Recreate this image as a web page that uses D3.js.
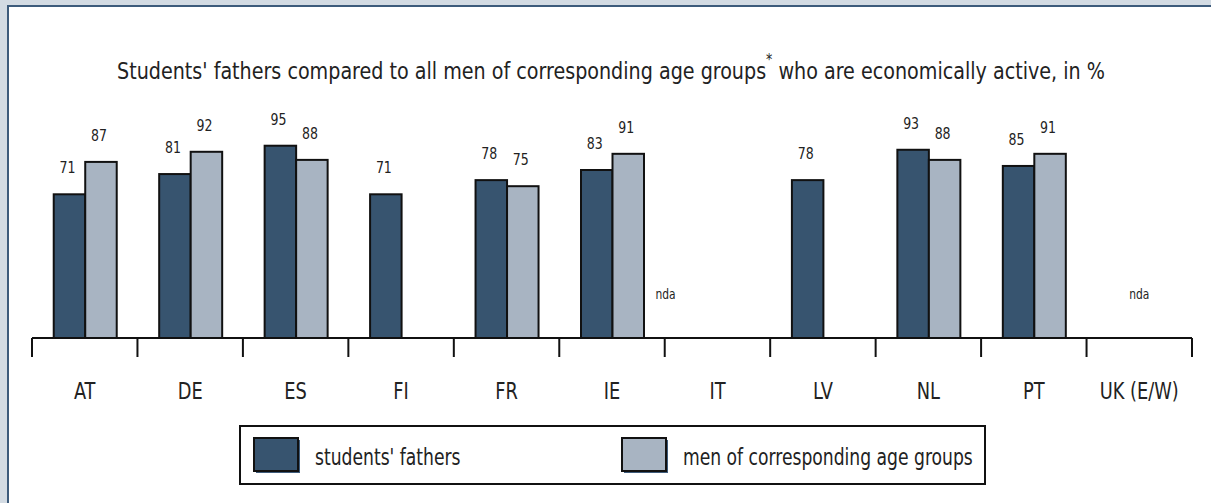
<!DOCTYPE html>
<html>
<head>
<meta charset="utf-8">
<script src="https://cdn.jsdelivr.net/npm/d3@7"></script>
<style>
  body { margin: 0; background: #d3dbe3; }
  svg text { font-family: "Liberation Sans Narrow", "DejaVu Sans Condensed", sans-serif; fill: #222; }
</style>
</head>
<body>
<div id="chart"></div>
<script>
// data
const countries = ['AT', 'DE', 'ES', 'FI', 'FR', 'IE', 'IT', 'LV', 'NL', 'PT', 'UK (E/W)'];
const fathers = [71, 81, 95, 71, 78, 83, null, 78, 93, 85, null];
const men = [87, 92, 88, null, 75, 91, null, null, 88, 91, null];
const noData = ['IT', 'UK (E/W)'];
const seriesNames = ["students' fathers", "men of corresponding age groups"];
const colors = ['#37546f', '#a8b4c2'];

const W = 1211, H = 503;
const svg = d3.select('#chart').append('svg')
    .attr('width', W)
    .attr('height', H);

// squeeze text horizontally to get the condensed look
const place = (x, y, sx) => `translate(${x},${y}) scale(${sx},1)`;

// frame
svg.append('rect')
    .attr('x', 8).attr('y', 6)
    .attr('width', W).attr('height', H)
    .attr('fill', '#fff')
    .attr('stroke', '#3d5b7b')
    .attr('stroke-width', 2);

// title
const title = svg.append('text')
    .attr('transform', place(611, 79, 0.925))
    .attr('text-anchor', 'middle')
    .style('font-size', '23px');
title.append('tspan').text("Students' fathers compared to all men of corresponding age groups");
title.append('tspan').attr('dy', -14).style('font-size', '15px').text('*');
title.append('tspan').attr('dy', 14).text(' who are economically active, in %');

// scales
const x = d3.scaleBand()
    .domain(countries)
    .range([32, 1192]);

const xs = d3.scaleBand()
    .domain([0, 1])
    .range([-31, 32]);

const y = d3.scaleLinear()
    .domain([0, 100])
    .range([338, 135.6]);

// axis
svg.append('line')
    .attr('x1', x.range()[0]).attr('x2', x.range()[1])
    .attr('y1', y(0)).attr('y2', y(0))
    .attr('stroke', '#111').attr('stroke-width', 2);

const ticks = countries.map(c => x(c)).concat([x.range()[1]]);
svg.selectAll('.tick')
    .data(ticks)
    .join('line')
    .attr('class', 'tick')
    .attr('x1', d => d).attr('x2', d => d)
    .attr('y1', y(0)).attr('y2', y(0) + 19)
    .attr('stroke', '#111').attr('stroke-width', 2);

svg.selectAll('.cat')
    .data(countries)
    .join('text')
    .attr('class', 'cat')
    .attr('transform', d => place(x(d) + x.bandwidth() / 2, 399, 0.86))
    .attr('text-anchor', 'middle')
    .style('font-size', '23px')
    .text(d => d);

// bars
const series = [fathers, men];
series.forEach((vals, si) => {
    const data = countries.map((c, i) => ({ c, v: vals[i] })).filter(d => d.v != null);
    svg.selectAll('.bar' + si)
        .data(data)
        .join('rect')
        .attr('class', 'bar' + si)
        .attr('x', d => x(d.c) + x.bandwidth() / 2 + xs(si))
        .attr('width', xs.bandwidth())
        .attr('y', d => y(d.v))
        .attr('height', d => y(0) - y(d.v))
        .attr('fill', colors[si])
        .attr('stroke', '#111')
        .attr('stroke-width', 2);

    svg.selectAll('.lab' + si)
        .data(data)
        .join('text')
        .attr('class', 'lab' + si)
        .attr('transform', d => place(x(d.c) + x.bandwidth() / 2 + xs(si) + xs.bandwidth() / 2 - 2, y(d.v) - 21, 0.87))
        .attr('text-anchor', 'middle')
        .style('font-size', '16px')
        .text(d => d.v);
});

// nda labels
svg.selectAll('.nda')
    .data(noData)
    .join('text')
    .attr('class', 'nda')
    .attr('transform', (d, i) => place(x(d) + x.bandwidth() / 2 + (i === 0 ? -52 : 0), 299, 0.85))
    .attr('text-anchor', 'middle')
    .style('font-size', '14px')
    .text('nda');

// legend
const legend = svg.append('g');
legend.append('rect')
    .attr('x', 240).attr('y', 426)
    .attr('width', 745).attr('height', 58)
    .attr('fill', '#fff')
    .attr('stroke', '#111')
    .attr('stroke-width', 2);

const legX = [254, 622];
seriesNames.forEach((name, i) => {
    legend.append('rect')
        .attr('x', legX[i] + 2).attr('y', 440)
        .attr('width', 44).attr('height', 33)
        .attr('fill', '#3d5b7b');
    legend.append('rect')
        .attr('x', legX[i]).attr('y', 438)
        .attr('width', 44).attr('height', 33)
        .attr('fill', colors[i])
        .attr('stroke', '#111')
        .attr('stroke-width', 2);
    legend.append('text')
        .attr('transform', place(legX[i] + 61, 465, 0.83))
        .style('font-size', '23px')
        .text(name);
});
</script>
</body>
</html>
